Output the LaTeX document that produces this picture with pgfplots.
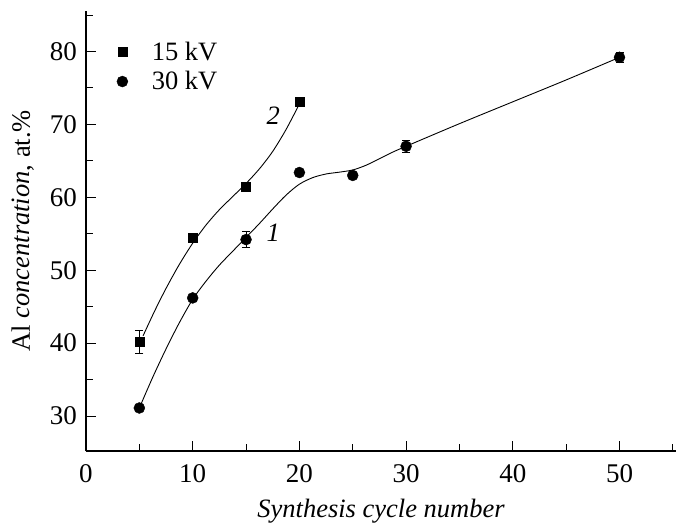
\documentclass[border=0pt]{standalone}
\usepackage{fontspec}
\setmainfont{Liberation Serif}
\usepackage{pgfplots}
\pgfplotsset{compat=1.18}
\begin{document}
\begin{tikzpicture}
\begin{axis}[
  x=10.67pt, y=7.29pt,
  xmin=0, xmax=55.3, ymin=25.2, ymax=85.6,
  axis lines=left,
  axis line style={-, line width=1.4pt},
  xtick={0,10,20,30,40,50}, ytick={30,40,50,60,70,80},
  minor xtick={5,15,25,35,45,55}, minor ytick={35,45,55,65,75,85},
  tick align=inside,
  major tick length=10pt, minor tick length=7pt,
  every tick/.style={line width=1pt, black},
  /pgf/number format/assume math mode=true,
  ticklabel style={font=\fontsize{27}{31}\selectfont},
  xticklabel style={yshift=-10pt},
  yticklabel style={xshift=-5.5pt},
  xlabel={\itshape Synthesis cycle number},
  ylabel={Al \textit{concentration}, at.\%},
  label style={font=\fontsize{26.5}{30}\selectfont},
  xlabel style={at={(axis description cs:0.5,0)}, anchor=base, yshift=-66pt},
  ylabel style={at={(axis description cs:0,0.5)}, anchor=base, yshift=56pt},
  clip=false,
  legend style={draw=none, fill=none, font=\fontsize{26.5}{30}\selectfont,
    at={(axis description cs:0.052,0.873)}, anchor=west,
    row sep=6pt, column sep=22pt, inner sep=0pt},
  legend cell align=left,
]
% fitted curves
\addplot[forget plot, smooth, tension=0.5, line width=0.9pt, black] coordinates {
 (5,31.1) (6.25,35.3) (7.5,39.2) (8.75,42.8) (10,46.0) (11.25,48.5) (12.5,50.7)
 (13.75,52.6) (15,54.5) (16.25,56.4) (17.5,58.4) (18.75,60.3) (20,61.8)
 (21.25,62.7) (22.5,63.2) (23.75,63.45) (25,63.75) (26.25,64.4) (27.5,65.3)
 (28.75,66.2) (30,67.0) (35,70.1) (40,73.1) (45,76.1) (50,79.2)};
\addplot[forget plot, smooth, tension=0.5, line width=0.9pt, black] coordinates {
 (5.35,41.0) (6.4,44.3) (7.5,47.5) (8.75,50.8) (10,53.7) (11.25,56.2) (12.5,58.3)
 (13.75,60.1) (15,61.9) (16.25,63.9) (17.5,66.3) (18.75,69.3) (20,72.8)};
% data
\addplot[only marks, mark=square*, mark size=4.5pt, black,
  error bars/.cd, y dir=both, y explicit,
  error bar style={line width=0.8pt, black},
  error mark options={rotate=90, mark size=4pt, line width=0.8pt, black}]
  coordinates {
  (5,40.2) +- (0,1.6)
  (10,54.4) +- (0,0.4)
  (15,61.5) +- (0,0.4)
  (20,73.1) +- (0,0.6)
};
\addlegendentry{15 kV}
\addplot[only marks, mark=*, mark size=5.5pt, black,
  error bars/.cd, y dir=both, y explicit,
  error bar style={line width=0.8pt, black},
  error mark options={rotate=90, mark size=4pt, line width=0.8pt, black}]
  coordinates {
  (5,31.1) +- (0,0.3)
  (10,46.2) +- (0,0.4)
  (15,54.2) +- (0,1.1)
  (20,63.4) +- (0,0.3)
  (25,63.0) +- (0,0.4)
  (30,67.0) +- (0,0.8)
  (50,79.2) +- (0,0.7)
};
\addlegendentry{30 kV}
\node[font=\fontsize{26.5}{30}\selectfont\itshape] at (axis cs:17.55,55.2) {1};
\node[font=\fontsize{26.5}{30}\selectfont\itshape] at (axis cs:17.55,71.2) {2};
\end{axis}
\pgfresetboundingbox
\path (-86pt,-74pt) rectangle (591pt,451pt);
\end{tikzpicture}
\end{document}
